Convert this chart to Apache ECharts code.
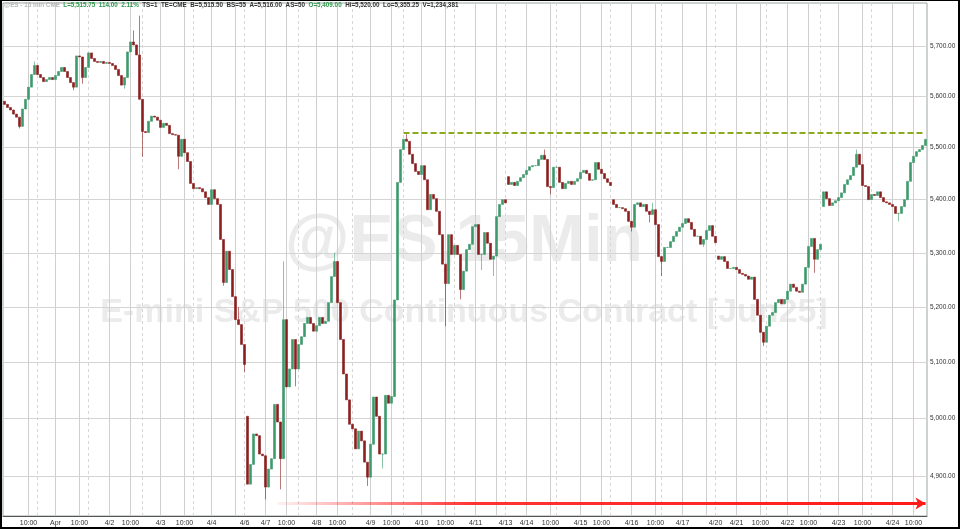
<!DOCTYPE html>
<html><head><meta charset="utf-8">
<script src="https://cdn.jsdelivr.net/npm/echarts@6/dist/echarts.min.js"></script>
<style>
html,body{margin:0;padding:0;background:#000;width:960px;height:529px;overflow:hidden}
#c{position:absolute;left:2px;top:1px;width:956px;height:526px;background:#fff}
</style></head>
<body><div id="c"></div>
<script>
// 15-min closes (one candle per ~3px of the reference)
const closes = [
5584,5578,5573,5565,5559,5541,5575,5594,5618,5643,
5661,5643,5637,5629,5633,5637,5633,5641,5649,5657,
5649,5637,5627,5618,5680,5678,5637,5657,5686,5675,
5669,5667,5669,5665,5667,5665,5661,5653,5641,5622,
5637,5688,5708,5702,5682,5594,5531,5529,5551,5561,
5559,5553,5539,5547,5543,5527,5525,5524,5483,5516,
5490,5473,5431,5421,5423,5421,5415,5404,5391,5419,
5402,5391,5325,5245,5303,5269,5219,5177,5168,5132,
5096,4886,4920,4973,4970,4938,4935,4881,4912,4930,
5025,4994,4930,5177,5056,5088,5141,5088,5132,5146,
5170,5181,5170,5156,5166,5181,5170,5174,5208,5256,
5284,5208,5141,5079,5033,4990,4982,4947,4978,4961,
4924,4898,4955,5038,5004,4938,4938,5041,5027,5039,
5213,5433,5496,5516,5512,5487,5469,5454,5448,5465,
5438,5381,5410,5402,5378,5334,5279,5243,5334,5297,
5314,5297,5232,5266,5306,5316,5349,5353,5297,5297,
5338,5318,5288,5294,5368,5391,5400,5394,5429,5433,
5427,5435,5442,5448,5456,5463,5465,5465,5477,5485,
5477,5425,5423,5462,5462,5433,5421,5431,5435,5429,
5435,5440,5452,5456,5450,5437,5438,5471,5458,5450,
5440,5433,5427,5391,5385,5385,5383,5378,5359,5348,
5391,5394,5387,5391,5378,5372,5381,5353,5293,5284,
5310,5310,5321,5331,5340,5348,5355,5364,5357,5344,
5331,5331,5316,5325,5342,5351,5331,5319,5288,5293,
5284,5271,5271,5273,5269,5262,5260,5257,5251,5255,
5214,5185,5154,5136,5165,5185,5190,5208,5214,5206,
5214,5229,5242,5236,5229,5227,5242,5273,5312,5327,
5288,5306,5316,5415,5402,5389,5394,5398,5404,5413,
5429,5438,5446,5462,5487,5467,5427,5425,5400,5410,
5408,5415,5404,5396,5394,5391,5387,5374,5374,5387,
5400,5435,5471,5483,5492,5496,5504,5515.75
];
// session-gap opens [barIndex, open]
const gapOpens = [[0,5590],[81,5004],[168,5444],[203,5400],[238,5294],[273,5387]];
// wick extremes [barIndex, value]
const wickHighs = [[10,5669],[43,5731],[45,5761],[78,5200],[93,5284],[110,5300],[134,5526],[180,5496],[216,5394],[284,5496]];
const wickLows = [[5,5537],[23,5612],[26,5625],[40,5615],[46,5482],[58,5458],[73,5239],[80,5082],[87,4860],[92,4877],[97,5057],[121,4883],[126,4913],[147,5165],[152,5214],[159,5268],[163,5257],[182,5410],[209,5340],[215,5357],[219,5257],[233,5311],[253,5129],[270,5263],[298,5359]];

const tickIdx = [8,17,25,35,42,52,60,69,80,87,94,104,111,122,129,139,147,157,167,174,182,192,199,209,217,226,237,244,252,261,268,278,286,296,303];
const tickLabels = ['10:00','Apr','10:00','4/2','10:00','4/3','10:00','4/4','4/6','4/7','10:00','4/8','10:00','4/9','10:00','4/10','10:00','4/11','4/13','4/14','10:00','4/15','10:00','4/16','10:00','4/17','4/20','4/21','10:00','4/22','10:00','4/23','10:00','4/24','10:00'];
const solidLineIdx = [8,17,25,35,42,52,60,69,77,87,94,104,111,122,129,139,147,157,164,174,182,192,199,209,217,226,234,244,252,261,268,278,286,296,303];
const dashedLineIdx = [11,28,46,63,80,98,116,133,150,167,184,202,219,237,254,272,289];
const yTicks = [4900,5000,5100,5200,5300,5400,5500,5600,5700];
const lastPrice = 5515.75;
const resistance = 5528;
const resistanceStart = 133;
const arrowLevel = 4853;
const arrowStart = 91;

const fmt = v => v.toLocaleString('en-US',{minimumFractionDigits:2,maximumFractionDigits:2});

const opens = closes.map((c,i)=> i===0 ? c : closes[i-1]);
gapOpens.forEach(([i,v])=>{opens[i]=v;});
const highs = closes.map((c,i)=>Math.max(c,opens[i]));
const lows = closes.map((c,i)=>Math.min(c,opens[i]));
wickHighs.forEach(([i,v])=>{highs[i]=Math.max(highs[i],v);});
wickLows.forEach(([i,v])=>{lows[i]=Math.min(lows[i],v);});
const candles = closes.map((c,i)=>[opens[i],c,lows[i],highs[i]]);
const cats = closes.map((_,i)=>String(i));
const labelMap = {}; tickIdx.forEach((k,j)=>labelMap[k]=tickLabels[j]);

const chart = echarts.init(document.getElementById('c'),null,{renderer:'canvas'});
const FONT = '"Liberation Sans", Arial, sans-serif';

const gridLines = [];
yTicks.forEach(v=>gridLines.push({yAxis:v,label:{show:true,formatter:fmt(v)}}));
solidLineIdx.forEach(k=>gridLines.push({xAxis:k,label:{show:false},lineStyle:{color:'#cfcfcf',type:'solid',width:1}}));
dashedLineIdx.forEach(k=>gridLines.push({xAxis:k,label:{show:false},lineStyle:{color:'#d6d6d6',type:[3,3],width:1}}));

chart.setOption({
  animation:false,
  backgroundColor:'#fff',
  title:{
    left:2, top:1, padding:0,
    text:'{g|@ES - 15 min CME}  {gr|L=5,515.75  114.00  2.11%}  {k|TS=1  TE=CME  B=5,515.50  BS=55  A=5,516.00  AS=50}  {gr|O=5,409.00}  {k|Hi=5,520.00  Lo=5,355.25  V=1,234,381}',
    textStyle:{fontSize:6.3,fontFamily:FONT,rich:{
      g:{color:'#b8b8b8',fontSize:6.3,fontFamily:FONT},
      gr:{color:'#2f9a4c',fontSize:6.3,fontFamily:FONT},
      k:{color:'#333',fontSize:6.3,fontFamily:FONT}
    }}
  },
  graphic:[
    {type:'text',z:0,silent:true,style:{text:'@ES,15Min',x:462,y:242,textAlign:'center',textVerticalAlign:'middle',font:'bold 66px "Liberation Sans", Arial, sans-serif',fill:'#ebebeb'}},
    {type:'text',z:0,silent:true,style:{text:'E-mini S&P 500 Continuous Contract [Jun25]',x:462,y:312,textAlign:'center',textVerticalAlign:'middle',font:'bold 34px "Liberation Sans", Arial, sans-serif',fill:'#ebebeb'}}
  ],
  grid:{left:1,top:2,width:924,height:514,show:true,borderColor:'#9aa6a0',borderWidth:1,backgroundColor:'transparent'},
  xAxis:{
    type:'category',data:cats,boundaryGap:true,
    axisLine:{show:true,lineStyle:{color:'#555',width:1}},
    axisTick:{show:false},
    splitLine:{show:false},
    axisLabel:{
      interval:(i)=>labelMap[i]!==undefined,
      formatter:(v,i)=>labelMap[i]||'',
      fontSize:7,color:'#333',fontFamily:FONT,margin:4
    }
  },
  yAxis:{
    type:'log',logBase:10,min:4831.6,max:5786.7,position:'right',
    axisLabel:{show:false},axisLine:{show:false},axisTick:{show:false},splitLine:{show:false}
  },
  series:[
    {type:'line',data:[],silent:true,z:1,
     markLine:{z:1,silent:true,symbol:['none','none'],animation:false,
       lineStyle:{color:'#d4d4d4',type:'solid',width:1},
       label:{position:'end',distance:3,fontSize:6.5,color:'#333',fontFamily:FONT},
       data:gridLines}},
    {type:'candlestick',data:candles,z:3,barWidth:2,
     itemStyle:{color:'#3d9a6c',color0:'#8b1f1f',borderColor:'#3d9a6c',borderColor0:'#8b1f1f',borderWidth:0.6},
     markLine:{z:6,silent:true,animation:false,symbol:['none','none'],
       data:[
         [{coord:[resistanceStart,resistance],lineStyle:{color:'#8aab1c',type:[6,3],width:2},label:{show:false}},{coord:[cats.length-1,resistance]}],
         [{coord:[arrowStart,arrowLevel],lineStyle:{width:3,type:'solid',color:new echarts.graphic.LinearGradient(0,0,1,0,[{offset:0,color:'rgba(255,40,40,0.05)'},{offset:0.3,color:'rgba(255,30,30,0.9)'},{offset:1,color:'#ff1a1a'}])},label:{show:false}},{coord:[cats.length-3,arrowLevel]}],
         [{coord:[cats.length-6,arrowLevel],symbol:'none',lineStyle:{width:3,type:'solid',color:'#ff1a1a'},label:{show:false}},{coord:[cats.length-1,arrowLevel],symbol:'arrow',symbolSize:[9,10],itemStyle:{color:'#ff1a1a'}}],
         {yAxis:lastPrice,lineStyle:{opacity:0},label:{show:true,position:'end',distance:2,formatter:fmt(lastPrice),color:'#fff',backgroundColor:'#3f9e6e',padding:[1,2,0,2],fontSize:6.5,fontFamily:FONT}}
       ]}}
  ]
});
</script></body></html>
